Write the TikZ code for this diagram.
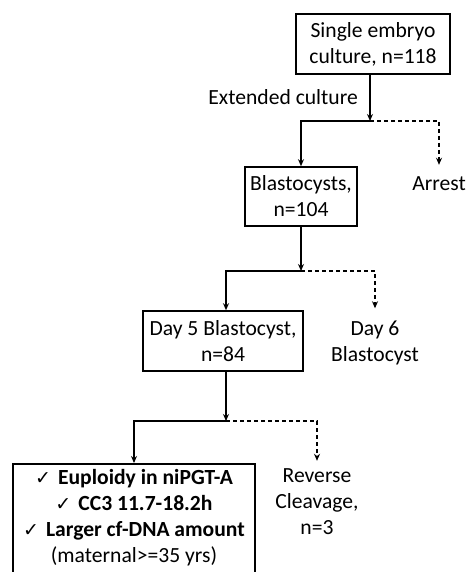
\documentclass[tikz,border=0pt]{standalone}
\usepackage{fontspec}
\setmainfont{Carlito}
\newfontfamily\symfont{DejaVu Sans}
\usetikzlibrary{arrows.meta}
\newcommand{\chk}{{\symfont\fontsize{19}{19}\selectfont ✓}\hspace{7pt}}
\begin{document}
\begin{tikzpicture}[x=1pt,y=-1pt,
  every node/.style={font=\fontsize{21.6}{26}\selectfont, inner sep=0pt},
  box/.style={draw, line width=1.6pt, align=center},
  lbl/.style={align=center},
  conn/.style={line width=1.5pt},
  arr/.style={conn,-{Stealth[length=7pt,width=6pt]}},
  darr/.style={arr, dash pattern=on 4pt off 3pt},
]
\useasboundingbox (0,0) rectangle (468,572);
\node[box, minimum width=154pt, minimum height=60pt] (b1) at (373,44) {Single embryo\\culture, n=118};
\node[lbl, anchor=east] (ext) at (358,97) {Extended culture};
\node[box, minimum width=112pt, minimum height=59pt] (bl) at (301,196.5) {Blastocysts,\\n=104};
\node[lbl] (ar) at (439,184) {Arrest};
\node[box, minimum width=160pt, minimum height=60pt] (d5) at (223,341) {Day 5 Blastocyst,\\n=84};
\node[lbl] (d6) at (375,342.5) {Day 6\\Blastocyst};
\node[box, minimum width=242pt, minimum height=140pt, anchor=north] (fin) at (134,463) {};
\node[lbl, anchor=north] (fintext) at (134,469) {\chk\textbf{Euploidy in niPGT-A}\\\chk\textbf{CC3 11.7-18.2h}\\\chk\textbf{Larger cf-DNA amount}\\(maternal>=35 yrs)};
\node[lbl] (rc) at (317,502) {Reverse\\Cleavage,\\n=3};
% connectors
\coordinate (j1) at (370,121);
\coordinate (j2) at (301,271);
\coordinate (j3) at (226,421);
\draw[arr] (b1.south -| j1) -- (j1);
\draw[arr] (j1) -| (bl.north);
\draw[darr] (j1) -| ([yshift=12pt]ar.north);
\draw[arr] (bl.south) -- (j2);
\draw[arr] (j2) -| ([xshift=3pt]d5.north);
\draw[darr] (j2) -| ([yshift=12pt]d6.north);
\draw[arr] ([xshift=3pt]d5.south) -- (j3);
\draw[arr] (j3) -| (fin.north);
\draw[darr] (j3) -| ([yshift=8pt]rc.north);
\end{tikzpicture}
\end{document}
